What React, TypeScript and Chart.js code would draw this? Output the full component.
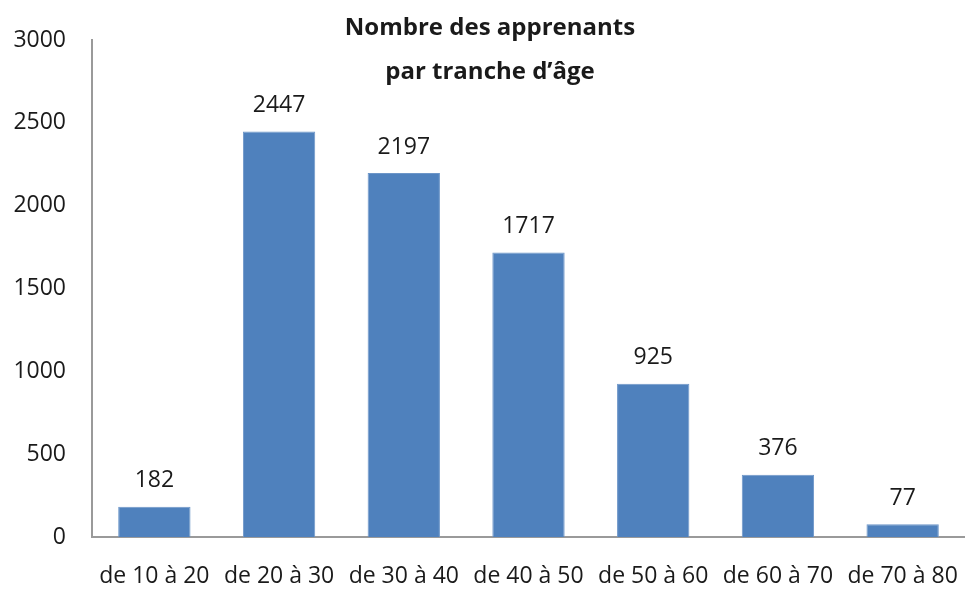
import React, { useEffect, useRef } from "react";
import { Chart, registerables } from "chart.js";

Chart.register(...registerables);

const categories = ["de 10 à 20", "de 20 à 30", "de 30 à 40", "de 40 à 50", "de 50 à 60", "de 60 à 70", "de 70 à 80"];
const values = [182, 2447, 2197, 1717, 925, 376, 77];
const titleLines = ["Nombre des apprenants", "par tranche d\u2019âge"];
const yMin = 0;
const yMax = 3000;
const yStep = 500;

const FONT = "'Open Sans', 'Liberation Sans', sans-serif";

const labelPlugin = {
  id: "valueLabels",
  afterDatasetsDraw(chart: any) {
    const ctx = chart.ctx;
    const meta = chart.getDatasetMeta(0);
    ctx.save();
    ctx.font = `23px ${FONT}`;
    ctx.fillStyle = "#1a1a1a";
    ctx.textAlign = "center";
    ctx.textBaseline = "middle";
    meta.data.forEach((bar: any, i: number) => {
      ctx.fillText(String(values[i]), bar.x, bar.y - 26);
    });
    ctx.restore();
  },
};

const titlePlugin = {
  id: "customTitle",
  afterDraw(chart: any) {
    const ctx = chart.ctx;
    ctx.save();
    ctx.font = `bold 24px ${FONT}`;
    ctx.fillStyle = "#1a1a1a";
    ctx.textAlign = "center";
    ctx.textBaseline = "middle";
    ctx.fillText(titleLines[0], 490, 28);
    ctx.fillText(titleLines[1], 490, 72);
    ctx.restore();
  },
};

export default function App() {
  const ref = useRef<HTMLCanvasElement | null>(null);
  useEffect(() => {
    document.body.style.margin = "0";
    if (!ref.current) return;
    const chart = new Chart(ref.current, {
      type: "bar",
      data: {
        labels: categories,
        datasets: [
          {
            data: values,
            backgroundColor: "#4F81BD",
            borderColor: "#6d96c8",
            borderWidth: 1,
            barPercentage: 0.58,
            categoryPercentage: 1,
          },
        ],
      },
      options: {
        animation: false,
        responsive: false,
        maintainAspectRatio: false,
        layout: { padding: { top: 40, right: 0, left: 0, bottom: 0 } },
        plugins: { legend: { display: false }, tooltip: { enabled: false }, title: { display: false } },
        scales: {
          x: {
            grid: { display: false, drawTicks: false },
            border: { display: true, color: "#9a9a9a", width: 2 },
            ticks: { font: { family: FONT, size: 23 }, color: "#1a1a1a", padding: 26, maxRotation: 0, autoSkip: false },
            afterFit: (s: any) => { s.height = 53; s.paddingLeft = 0; s.paddingRight = 0; },
          },
          y: {
            min: yMin,
            max: yMax,
            grid: { display: false, drawTicks: false },
            border: { display: true, color: "#9a9a9a", width: 2 },
            ticks: {
              stepSize: yStep,
              font: { family: FONT, size: 23 },
              color: "#1a1a1a",
              padding: 26,
              callback: (v: any) => String(v),
            },
            afterFit: (s: any) => { s.width = 92; s.paddingTop = 0; s.paddingBottom = 0; },
          },
        },
      },
      plugins: [labelPlugin, titlePlugin],
    });
    return () => chart.destroy();
  }, []);
  return (
    <div style={{ position: "fixed", left: 0, top: 0, width: 965, height: 590, background: "#fff" }}>
      <canvas ref={ref} width={965} height={590} style={{ width: 965, height: 590 }} />
    </div>
  );
}
